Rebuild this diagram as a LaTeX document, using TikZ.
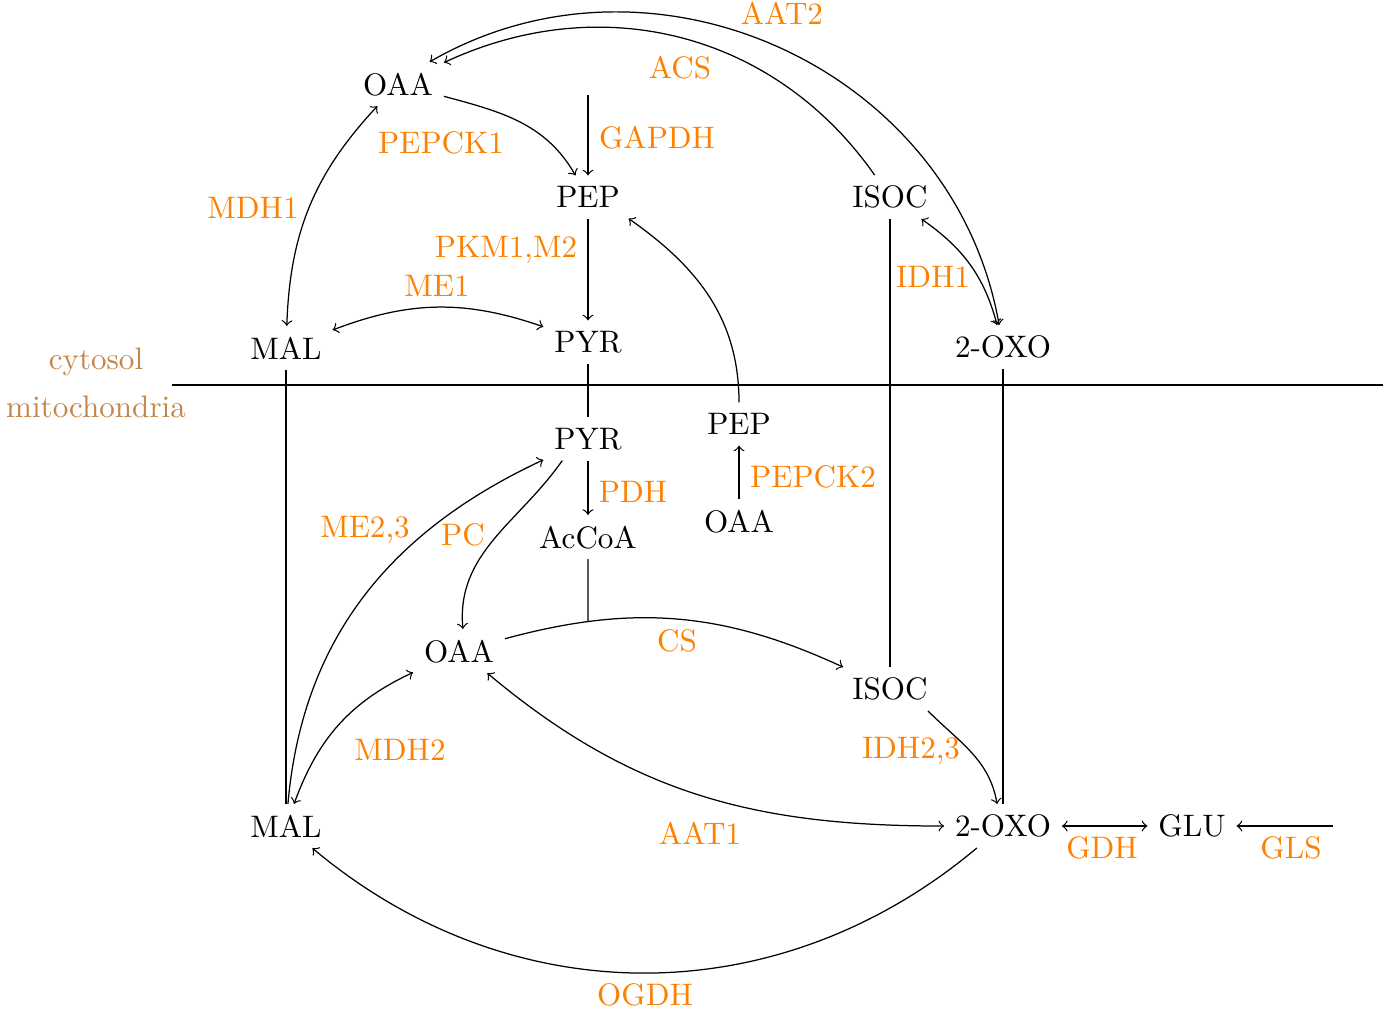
\documentclass[tikz,border=0pt]{standalone}
\usetikzlibrary{intersections}
\definecolor{enzc}{RGB}{255,128,0}
\definecolor{compc}{RGB}{195,135,75}
\begin{document}
\begin{tikzpicture}[x=0.0113cm,y=0.0113cm,
  met/.style={text depth=0pt},
  lab/.style={text=enzc, text depth=0pt, inner sep=0pt},
  comp/.style={text=compc, text depth=0pt, inner sep=0pt}]
\useasboundingbox (0,0) rectangle (1387,-1014);
% metabolites, cytosol
\node[met] (oaa1) at (398,-84) {OAA};
\node[met] (pep1) at (588,-197) {PEP};
\node[met] (isoc1) at (890,-197) {ISOC};
\node[met] (mal1) at (286,-348) {MAL};
\node[met] (pyr1) at (588,-342) {PYR};
\node[met] (oxo1) at (1003,-347) {2-OXO};
% metabolites, mitochondria
\node[met] (pep2) at (739,-424) {PEP};
\node[met] (pyr2) at (588,-439) {PYR};
\node[met] (oaa3) at (739,-521) {OAA};
\node[met] (acc) at (588,-537) {AcCoA};
\node[met] (oaa2) at (459,-651) {OAA};
\node[met] (isoc2) at (890,-689) {ISOC};
\node[met] (mal2) at (286,-826) {MAL};
\node[met] (oxo2) at (1003,-826) {2-OXO};
\node[met] (glu) at (1192,-826) {GLU};
% compartments
\node[comp] (lcyt) at (96,-359) {cytosol};
\node[comp] (lmit) at (96,-407) {mitochondria};
\coordinate (memL) at (172,-385);
\coordinate (memR) at (1383,-385);
\draw (memL) -- (memR);
% enzyme labels
\node[lab] (lAAT2) at (782,-13) {AAT2};
\node[lab] (lACS) at (680,-67) {ACS};
\node[lab] (lPEPCK1) at (441,-143) {PEPCK1};
\node[lab] (lGAPDH) at (657,-137) {GAPDH};
\node[lab] (lMDH1) at (253,-208) {MDH1};
\node[lab] (lPKM) at (506,-247) {PKM1,M2};
\node[lab] (lME1) at (437,-286) {ME1};
\node[lab] (lIDH1) at (933,-277) {IDH1};
\node[lab] (lPDH) at (633,-492) {PDH};
\node[lab] (lPEPCK2) at (813,-477) {PEPCK2};
\node[lab] (lME23) at (365,-527) {ME2,3};
\node[lab] (lPC) at (463,-535) {PC};
\node[lab] (lCS) at (677,-641) {CS};
\node[lab] (lMDH2) at (400,-750) {MDH2};
\node[lab] (lIDH23) at (911,-748) {IDH2,3};
\node[lab] (lAAT1) at (700,-833) {AAT1};
\node[lab] (lGDH) at (1102,-848) {GDH};
\node[lab] (lGLS) at (1291,-848) {GLS};
\node[lab] (lOGDH) at (645,-995) {OGDH};
% cytosolic reactions
\draw[->] (oaa1) to[out=-15,in=120] (pep1);
\coordinate (gtop) at (588,-95);
\draw[->] (gtop) -- (pep1);
\draw[->] (pep1) -- (pyr1);
\draw[<->] (mal1) to[out=88,in=-133] (oaa1);
\draw[<->] (mal1) to[bend left=20] (pyr1);
\draw[->] (pep2) to[out=90,in=-35] (pep1.-28);
\draw[->] (isoc1) to[out=125,in=25] (oaa1);
\draw[<->] (isoc1) to[out=-35,in=105] (oxo1);
\draw[<->] (oxo1) to[out=100,in=30,looseness=1.06] (oaa1.35);
% transport across membrane
\draw (mal1) -- (mal2);
\draw (pyr1) -- (pyr2);
\draw (isoc1) -- (isoc2);
\draw (oxo1) -- (oxo2);
% mitochondrial reactions
\draw[->] (pyr2) -- (acc);
\draw[->] (oaa3) -- (pep2);
\draw[->] (pyr2.-140) to[out=-125,in=95] (oaa2.80);
\draw[->] (mal2) to[out=85,in=205] (pyr2);
\draw[<->] (mal2) to[out=70,in=-155] (oaa2);
\draw[->,name path=cspath] (oaa2) to[bend left=20] (isoc2);
\path[name path=accline] (acc) -- ++(0,-150);
\draw[name intersections={of=cspath and accline,by=csj}] (acc) -- (csj);
\draw[->] (isoc2.-30) to[out=-45,in=100] (oxo2.105);
\draw[<->] (oaa2.-38) to[out=-40,in=180] (oxo2.west);
\draw[->] (oxo2) to[bend left=40] (mal2);
\draw[<->] (oxo2) -- (glu);
\coordinate (glsR) at (1333,-826);
\draw[->] (glsR) -- (glu);
\end{tikzpicture}
\end{document}
